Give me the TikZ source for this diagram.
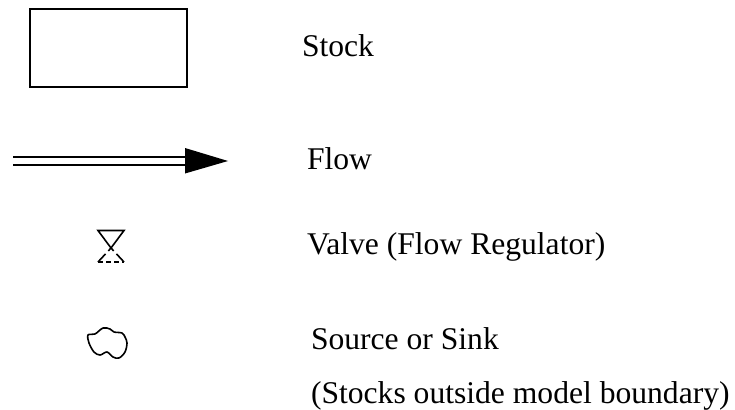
\documentclass[tikz,border=0pt]{standalone}
\usepackage{fontspec}
\setmainfont{Liberation Serif}
\tikzset{
Legende/.style={
 anchor=base west,
 inner sep=0pt,
 outer sep=0pt,
 font=\fontsize{31.6}{36}\selectfont
 },
StockBox/.style={
 draw=black,
 line width=1.8pt,
 minimum width=157pt,
 minimum height=78pt,
 inner sep=0pt
 },
FluxFleche/.style={
 draw=black,
 line width=1.9pt
 },
Trait/.style={
 draw=black,
 line width=1.6pt
 }
}
\begin{document}
\begin{tikzpicture}[x=1pt,y=-1pt]
\useasboundingbox (0,0) rectangle (735,409);
\node[StockBox] (stock) at (108.2,48) {};
\node[Legende] (stocktext) at (302,57) {Stock};
% flow
\coordinate (fluxa) at (13,156.7);
\coordinate (fluxb) at (185,156.7);
\coordinate (fluxc) at (13,164.7);
\coordinate (fluxd) at (185,164.7);
\draw[FluxFleche] (fluxa) -- (fluxb);
\draw[FluxFleche] (fluxc) -- (fluxd);
\fill (185,148) -- (228,161) -- (185,173.5) -- cycle;
\node[Legende] (flowtext) at (307,169) {Flow};
% valve
\draw[Trait] (98,230.5) -- (124,230.5) -- (111,248) -- cycle;
\draw[Trait,dash pattern=on 4pt off 4pt on 12pt off 0pt] (111,248) -- (98,262);
\draw[Trait,dash pattern=on 4pt off 4pt on 12pt off 0pt] (111,248) -- (124,262);
\draw[Trait,dash pattern=on 5pt off 3pt] (98,262) -- (124,262);
\node[Legende] (valvetext) at (307,254) {Valve (Flow Regulator)};
% cloud
\draw[Trait,line join=round] plot[smooth cycle,tension=0.55] coordinates {
 (88,335) (95,334) (103,328) (110,329) (114,332) (122,333) (125,337) (127,343)
 (125,352) (119,358) (113,357) (107,352) (100,355) (94,352) (89,343)};
\node[Legende] (sourcetext) at (311,349) {Source or Sink};
\node[Legende] (boundarytext) at (311,403) {(Stocks outside model boundary)};
\end{tikzpicture}
\end{document}
